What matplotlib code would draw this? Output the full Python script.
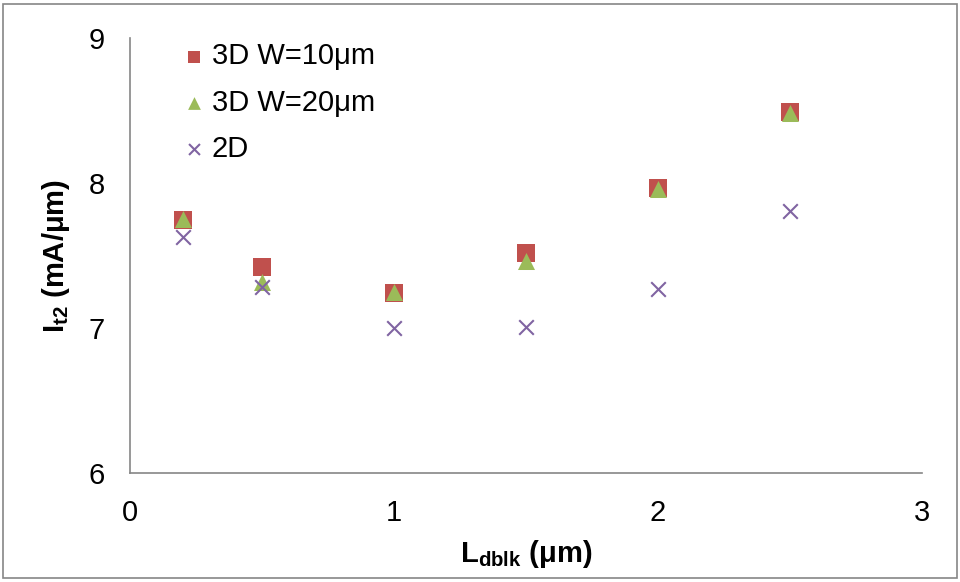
import matplotlib
matplotlib.use("Agg")
import matplotlib.pyplot as plt
from matplotlib.patches import Rectangle

plt.rcParams['font.family'] = ['Liberation Sans', 'DejaVu Sans']
plt.rcParams['mathtext.fontset'] = 'custom'
plt.rcParams['mathtext.rm'] = 'Liberation Sans'
plt.rcParams['mathtext.bf'] = 'Liberation Sans:bold'
plt.rcParams['mathtext.it'] = 'Liberation Sans:italic'

x_vals = [0.2, 0.5, 1.0, 1.5, 2.0, 2.5]
w10 = [7.745, 7.423, 7.243, 7.515, 7.967, 8.487]
w20 = [7.75, 7.32, 7.25, 7.46, 7.96, 8.48]
d2 = [7.63, 7.28, 7.0, 7.01, 7.27, 7.81]
labels = ['3D W=10μm', '3D W=20μm', '2D']
x_ticks = [0, 1, 2, 3]
y_ticks = [6, 7, 8, 9]

FS = 21

fig = plt.figure(figsize=(9.6, 5.82), dpi=100)
ax = fig.add_axes([130/960, 1-473/582, (922-130)/960, (473-38)/582])

ax.scatter(x_vals, w10, marker='s', s=150, color='#C0504D', label=labels[0], zorder=3, linewidths=0)
ax.scatter(x_vals, w20, marker='^', s=150, color='#9BBB59', label=labels[1], zorder=4, linewidths=0)
ax.scatter(x_vals, d2, marker='x', s=110, color='#8064A2', label=labels[2], zorder=5, linewidths=1.5)

ax.set_xlim(0, 3)
ax.set_ylim(6, 9)
ax.set_xticks(x_ticks)
ax.set_yticks(y_ticks)
ax.tick_params(length=0, labelsize=FS)
ax.tick_params(axis='y', pad=18)
ax.tick_params(axis='x', pad=19)
for s in ['top', 'right']:
    ax.spines[s].set_visible(False)
for s in ['left', 'bottom']:
    ax.spines[s].set_color('#868686')
    ax.spines[s].set_linewidth(1.2)

ax.set_xlabel(r'L$_{\mathbf{dblk}}$ (μm)', fontsize=FS, fontweight='bold', labelpad=8)
ax.set_ylabel(r'I$_{\mathbf{t2}}$ (mA/μm)', fontsize=FS, fontweight='bold', labelpad=12)

leg = ax.legend(loc='upper left', bbox_to_anchor=(0.048, 1.017), frameon=False, fontsize=FS,
                handletextpad=0.1, labelspacing=0.63, handlelength=1.0, borderaxespad=0,
                markerscale=0.75)

fig.patches.append(Rectangle((3/960, 4/582), 954/960, 574/582, transform=fig.transFigure,
                             fill=False, edgecolor='#868686', linewidth=1.2))

fig.savefig('out.png', dpi=100)
